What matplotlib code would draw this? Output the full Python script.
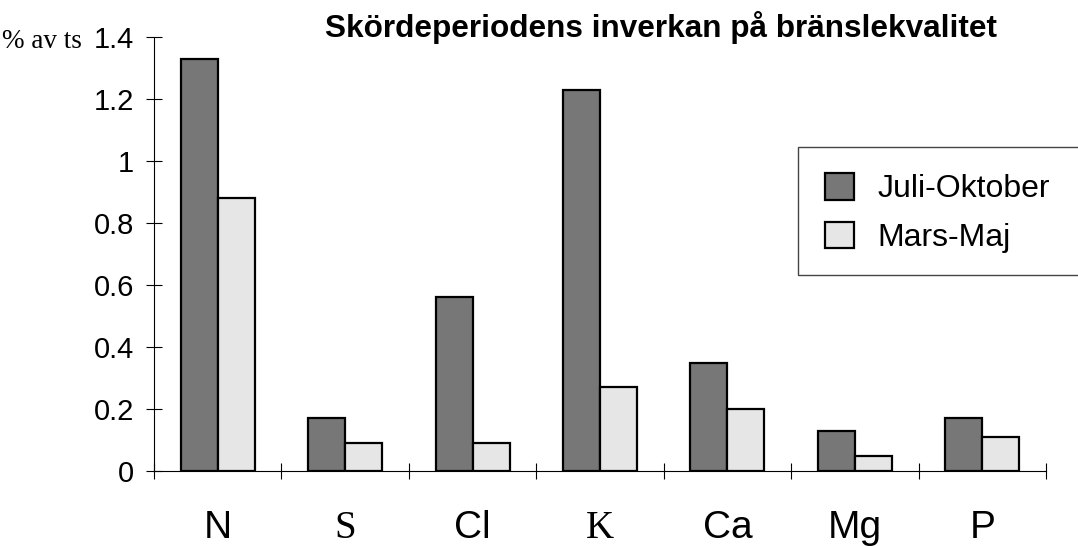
import matplotlib
matplotlib.use("Agg")
import matplotlib.pyplot as plt
from matplotlib.patches import Rectangle
import numpy as np

categories = ["N", "S", "Cl", "K", "Ca", "Mg", "P"]
serif_cats = {"S", "K"}
juli_oktober = [1.33, 0.17, 0.56, 1.23, 0.35, 0.13, 0.17]
mars_maj = [0.88, 0.09, 0.09, 0.27, 0.20, 0.05, 0.11]
series_names = ["Juli-Oktober", "Mars-Maj"]
ytick_vals = [0, 0.2, 0.4, 0.6, 0.8, 1.0, 1.2, 1.4]
ytick_labels = ["0", "0.2", "0.4", "0.6", "0.8", "1", "1.2", "1.4"]
title = "Skördeperiodens inverkan på bränslekvalitet"
ylabel = "% av ts"

SANS = "Liberation Sans"
SERIF = "Liberation Serif"

W, H = 1078, 546
fig = plt.figure(figsize=(W / 100, H / 100), dpi=100)
ax = fig.add_axes([154 / W, 1 - 471 / H, (1046 - 154) / W, (471 - 37) / H])

x = np.arange(len(categories))
bw = 0.29
ax.bar(x - bw / 2, juli_oktober, bw, color="#777777", edgecolor="black",
       linewidth=1.6, label=series_names[0], zorder=3)
ax.bar(x + bw / 2, mars_maj, bw, color="#e6e6e6", edgecolor="black",
       linewidth=1.6, label=series_names[1], zorder=3)

ax.set_xlim(-0.5, len(categories) - 0.5)
ax.set_ylim(0, 1.4)
for s in ["top", "right"]:
    ax.spines[s].set_visible(False)
for s in ["left", "bottom"]:
    ax.spines[s].set_linewidth(0.8)
ax.spines["bottom"].set_zorder(4)

ax.set_yticks(ytick_vals)
ax.set_yticklabels(ytick_labels, fontfamily=SANS, fontsize=21)
ax.tick_params(axis="y", direction="inout", length=11, width=0.8, pad=9)

ax.set_xticks(np.arange(len(categories) + 1) - 0.5)
ax.set_xticklabels([])
ax.tick_params(axis="x", which="major", direction="inout", length=11, width=0.8)
ax.set_xticks(x, minor=True)
ax.set_xticklabels(categories, minor=True, fontsize=28)
ax.tick_params(axis="x", which="minor", length=0, pad=28)
for lbl in ax.get_xticklabels(minor=True):
    lbl.set_fontfamily(SERIF if lbl.get_text() in serif_cats else SANS)

fig.text(661 / W, 1 - 37 / H, title, ha="center", va="baseline",
         fontfamily=SANS, fontweight="bold", fontsize=22.7)
fig.text(2 / W, 1 - 42 / H, ylabel, ha="left", va="center",
         fontfamily=SERIF, fontsize=19.5)

# legend frame
fig.patches.append(Rectangle((798 / W, 1 - 275 / H), 300 / W, 128 / H,
                             transform=fig.transFigure, facecolor="white",
                             edgecolor="#444444", linewidth=1.0, zorder=5))
leg = fig.legend(loc="upper left", bbox_to_anchor=(825 / W, 1 - 173 / H),
                 frameon=False, prop={"family": SANS, "size": 23},
                 handlelength=0.9, handleheight=0.9, handletextpad=0.75,
                 labelspacing=0.55, borderpad=0, borderaxespad=0)
leg.set_zorder(6)

fig.savefig("out.png", dpi=100)
